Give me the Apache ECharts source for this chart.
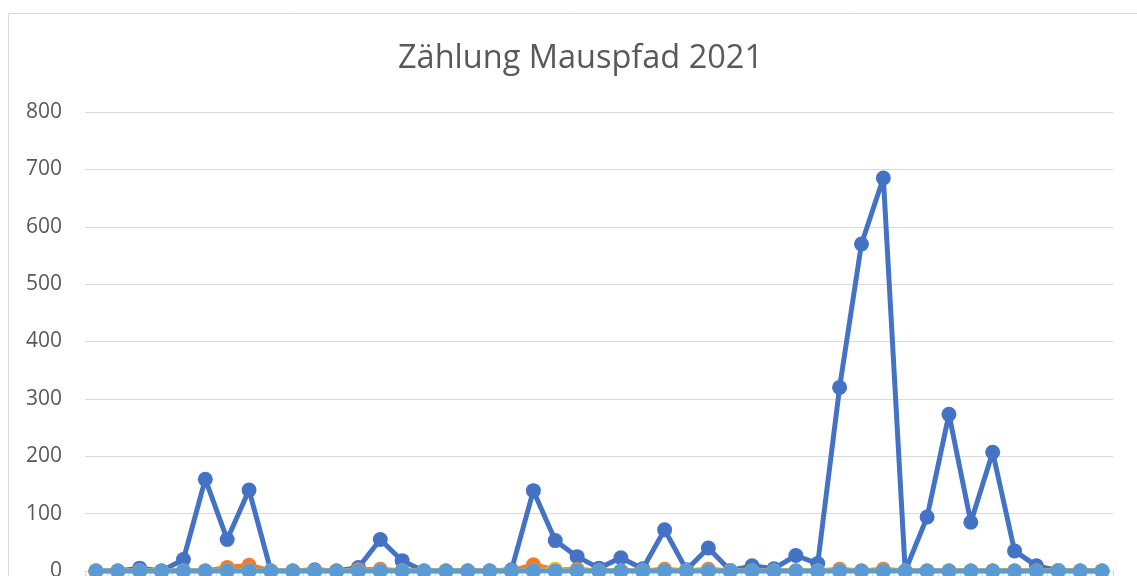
<!DOCTYPE html>
<html>
<head>
<meta charset="utf-8">
<script src="https://cdn.jsdelivr.net/npm/echarts@6/dist/echarts.min.js"></script>
<style>
html,body{margin:0;padding:0;background:#fff;}
#chart{width:1137px;height:576px;}
</style>
</head>
<body>
<div id="chart"></div>
<script>
// 47 counting dates (x labels fall below the visible crop)
const categories = Array.from({length: 47}, (_, i) => String(i + 1));
const yTicks = [0, 100, 200, 300, 400, 500, 600, 700, 800];

const serie1 = [0, 0, 5, 0, 20, 160, 55, 141, 0, 0,
                2, 0, 6, 55, 18, 0, 0, 0, 0, 2,
                140, 53, 25, 5, 23, 4, 72, 2, 40, 1,
                9, 4, 27, 13, 320, 570, 685, 0, 94, 273,
                85, 207, 35, 9, 1, 0, 0];
const serie2 = [0, 0, 0, 0, 0, 0, 6, 10, 0, 0,
                0, 0, 2, 3, 0, 0, 0, 0, 0, 0,
                11, 2, 3, 0, 0, 0, 3, 0, 3, 0,
                0, 0, 0, 0, 3, 0, 3, 0, 0, 0,
                0, 0, 0, 0, 0, 0, 0];
const serie3 = new Array(47).fill(0);
const serie4 = [0, 0, 0, 0, 0, 0, 0, 0, 0, 0,
                0, 0, 0, 0, 0, 0, 0, 0, 0, 0,
                0, 3, 0, 0, 0, 0, 0, 0, 0, 0,
                0, 0, 0, 0, 0, 0, 0, 0, 0, 0,
                0, 0, 0, 0, 0, 0, 0];
const serie5 = new Array(47).fill(0);

const seriesNames = ['Serie 1', 'Serie 2', 'Serie 3', 'Serie 4', 'Serie 5'];
const seriesData = [serie1, serie2, serie3, serie4, serie5];
const colors = ['#4472C4', '#ED7D31', '#A5A5A5', '#FFC000', '#5B9BD5'];

const chart = echarts.init(document.getElementById('chart'));
chart.setOption({
  animation: false,
  backgroundColor: '#ffffff',
  graphic: [{
    type: 'rect', silent: true, z: -10,
    shape: {x: 8.5, y: 13.5, width: 1140, height: 620},
    style: {fill: 'none', stroke: '#d9d9d9', lineWidth: 1}
  }],
  title: {
    text: 'Zählung Mauspfad 2021',
    left: 393, top: 37,
    textStyle: {fontFamily: 'Open Sans', fontWeight: 'normal', fontSize: 32.5, color: '#595959'}
  },
  grid: {left: 85, right: 24, top: 112, bottom: 5, containLabel: false, outerBoundsMode: 'none'},
  xAxis: {
    type: 'category', data: categories, boundaryGap: true,
    axisLine: {lineStyle: {color: '#d9d9d9', width: 1}},
    axisTick: {show: true, length: 5, lineStyle: {color: '#d9d9d9'}},
    axisLabel: {show: false}
  },
  yAxis: {
    type: 'value', min: yTicks[0], max: yTicks[yTicks.length - 1], interval: 100,
    axisLine: {show: false}, axisTick: {show: false},
    splitLine: {lineStyle: {color: '#d9d9d9', width: 1}},
    axisLabel: {fontFamily: 'Open Sans', fontSize: 21, color: '#595959', margin: 23}
  },
  series: seriesData.map((d, i) => ({
    name: seriesNames[i], type: 'line', data: d,
    color: colors[i],
    symbol: 'circle', symbolSize: 15, showAllSymbol: true,
    lineStyle: {width: 5, color: colors[i]},
    itemStyle: {color: colors[i]},
    z: 2 + i
  }))
});
</script>
</body>
</html>
